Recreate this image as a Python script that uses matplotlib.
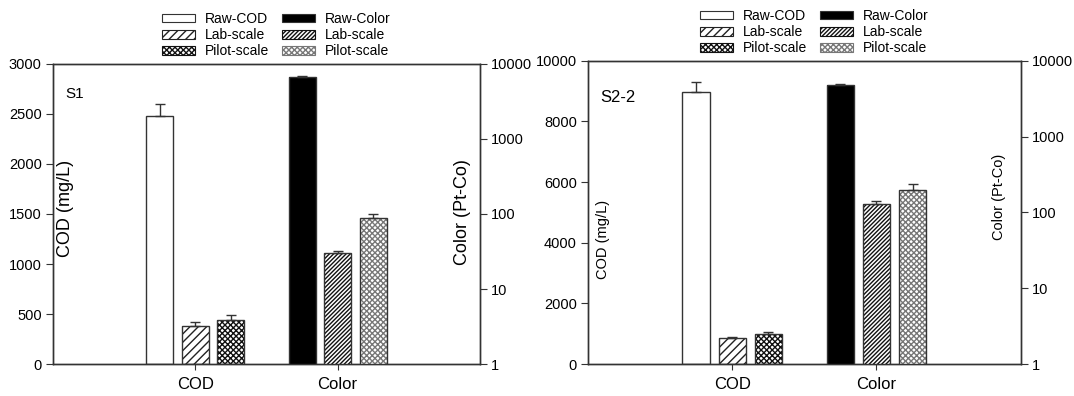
import matplotlib.pyplot as plt
from matplotlib.patches import Patch
from matplotlib.ticker import FixedLocator, FixedFormatter, NullLocator

plt.rcParams['font.family'] = ['Liberation Sans', 'DejaVu Sans']
plt.rcParams['hatch.linewidth'] = 1.0

# data
groups = ["COD", "Color"]
series = ["Raw", "Lab-scale", "Pilot-scale"]

s1_cod = [2483, 380, 443]
s1_cod_err = [115, 45, 45]
s1_color = [6650, 30.5, 89]
s1_color_err = [250, 1.6, 11]

s2_cod = [8970, 855, 990]
s2_cod_err = [330, 20, 60]
s2_color = [4790, 129, 197]
s2_color_err = [200, 12, 40]

edge = '#333333'
cod_styles = [dict(fc='white', hatch=None, hc=edge),
              dict(fc='white', hatch='////', hc='#222222'),
              dict(fc='white', hatch='xxxxxx', hc='#111111')]
col_styles = [dict(fc='black', hatch=None, hc='black'),
              dict(fc='white', hatch='////////', hc='#111111'),
              dict(fc='white', hatch='xxxxxx', hc='#777777')]

width = 0.19
offsets = [-0.25, 0.0, 0.25]


def draw_bars(ax, center, vals, errs, styles):
    for off, v, e, st in zip(offsets, vals, errs, styles):
        x = center + off
        ax.bar(x, v, width, color=st['fc'], edgecolor=st['hc'],
               hatch=st['hatch'], linewidth=0, zorder=2)
        ax.bar(x, v, width, fill=False, edgecolor=edge, linewidth=1, zorder=3)
        ax.errorbar(x, v, yerr=[[0], [e]], fmt='none', ecolor=edge,
                    elinewidth=1, capsize=3.5, capthick=1, zorder=4)


def legend_handles():
    hs = []
    labels = ["Raw-COD", "Lab-scale", "Pilot-scale",
              "Raw-Color", "Lab-scale", "Pilot-scale"]
    for st, lab in zip(cod_styles + col_styles, labels):
        hs.append(Patch(facecolor=st['fc'], edgecolor=st['hc'] if st['hatch'] else edge,
                        hatch=st['hatch'], linewidth=0.8, label=lab))
    return hs, labels


def panel(rect, cod, cod_err, color, color_err, cod_max, cod_ticks, tag,
          lab_size, lab_xy, col_xy, tag_xy, tag_size, leg_xy):
    ax = fig.add_axes(rect)
    ax2 = ax.twinx()
    ax.set_xlim(0, 3)
    ax.set_ylim(0, cod_max)
    ax2.set_yscale('log')
    ax2.set_ylim(1, 10000)

    draw_bars(ax, 1, cod, cod_err, cod_styles)
    draw_bars(ax2, 2, color, color_err, col_styles)

    ax.set_yticks(cod_ticks)
    ax.set_xticks([1, 2])
    ax.set_xticklabels(groups, fontsize=12)
    ax.tick_params(axis='x', length=4, pad=5, color=edge)
    ax.tick_params(axis='y', length=5, labelsize=10.5, color=edge, pad=3)
    ax2.yaxis.set_major_locator(FixedLocator([1, 10, 100, 1000, 10000]))
    ax2.yaxis.set_major_formatter(FixedFormatter(["1", "10", "100", "1000", "10000"]))
    ax2.yaxis.set_minor_locator(NullLocator())
    ax2.tick_params(axis='y', length=5, labelsize=10.5, color=edge, pad=3)
    for a in (ax, ax2):
        for sp in a.spines.values():
            sp.set_color(edge)
            sp.set_linewidth(1)

    ax.text(lab_xy[0], lab_xy[1], "COD (mg/L)", transform=ax.transAxes,
            rotation=90, ha='center', va='center', fontsize=lab_size)
    ax.text(col_xy[0], col_xy[1], "Color (Pt-Co)", transform=ax.transAxes,
            rotation=90, ha='center', va='center', fontsize=lab_size)
    ax.text(tag_xy[0], tag_xy[1], tag, transform=ax.transAxes, fontsize=tag_size,
            ha='left', va='center')

    hs, labels = legend_handles()
    fig.legend(hs, labels, ncol=2, loc='center', bbox_to_anchor=leg_xy,
               frameon=False, fontsize=10, handlelength=2.4, handleheight=0.6,
               labelspacing=0.15, columnspacing=0.9, handletextpad=0.7,
               borderaxespad=0, borderpad=0)


fig = plt.figure(figsize=(10.74, 3.96), dpi=100)

panel([0.0493, 0.0808, 0.3976, 0.7576], s1_cod, s1_cod_err, s1_color, s1_color_err,
      3000, [0, 500, 1000, 1500, 2000, 2500, 3000], "S1",
      13, (0.03, 0.52), (0.96, 0.507), (0.028, 0.9), 11, (276 / 1074, 1 - 35 / 396))
panel([0.5475, 0.0808, 0.4029, 0.7659], s2_cod, s2_cod_err, s2_color, s2_color_err,
      10000, [0, 2000, 4000, 6000, 8000, 10000], "S2-2",
      10.5, (0.035, 0.41), (0.949, 0.55), (0.028, 0.878), 12, (814 / 1074, 1 - 32 / 396))

fig.savefig("out.png", dpi=100)
